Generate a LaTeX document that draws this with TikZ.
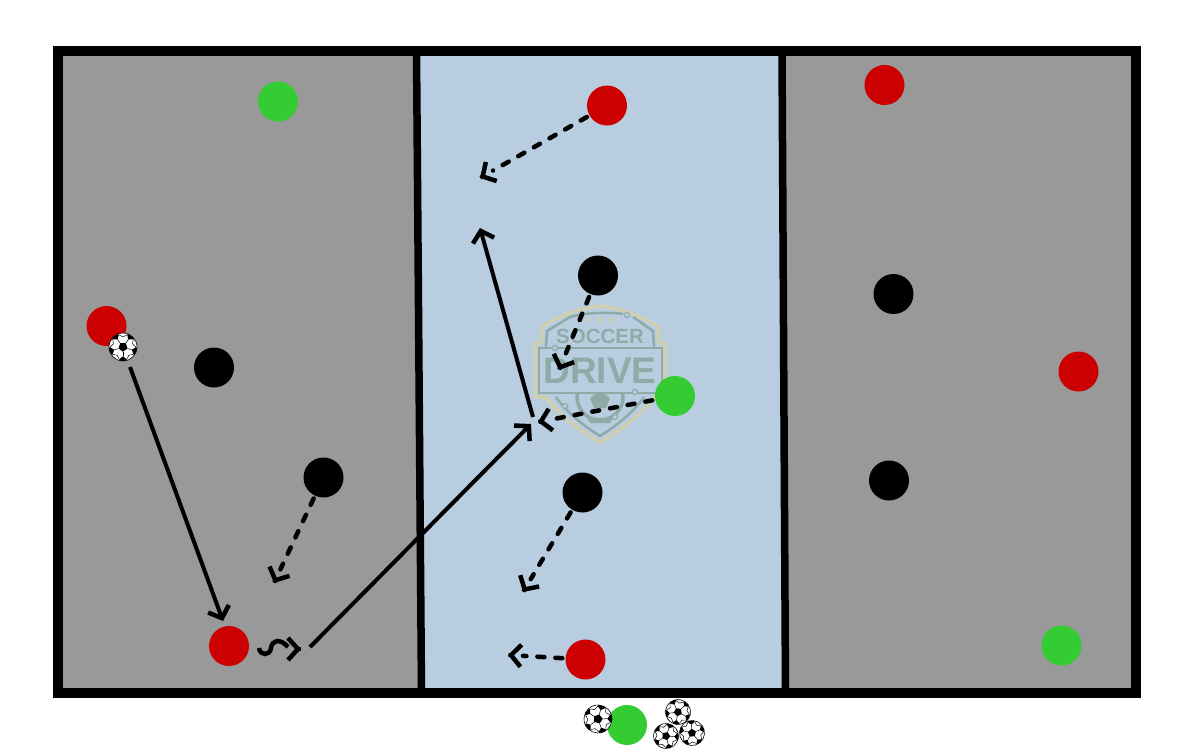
\documentclass[tikz,border=0pt]{standalone}
\usepackage{fontspec}
\setmainfont{Liberation Sans}
\usetikzlibrary{arrows.meta,calc,shapes.geometric}

\definecolor{zoneside}{HTML}{999999}
\definecolor{zonemid}{HTML}{B8CDE0}
\definecolor{teamred}{HTML}{CC0000}
\definecolor{teamgreen}{HTML}{33CC33}
\definecolor{logotan}{HTML}{CFD0B0}
\definecolor{logoteal}{HTML}{8FABA8}

\tikzset{
  player/.style={circle,minimum size=40pt,inner sep=0pt,fill=#1},
  barb/.style={line width=4pt,-{Straight Barb[length=10pt,width=22pt,line width=4.5pt]}},
  run/.style={line width=4.5pt,line cap=round,shorten <=3pt,shorten >=15pt,dash pattern=on 7pt off 11pt},
  pics/ballicon/.style={code={
    \fill[white] (0,0) circle (#1);
    \draw[line width=0.6pt] (0,0) circle (#1);
    \begin{scope}
      \clip (0,0) circle (#1);
      \fill (90:0.34*#1) -- (162:0.34*#1) -- (234:0.34*#1) -- (306:0.34*#1) -- (18:0.34*#1) -- cycle;
      \foreach \ang in {90,162,234,306,18} {
        \draw[line width=0.5pt] (\ang:0.34*#1) -- (\ang:0.66*#1);
        \fill (\ang:0.66*#1) -- (\ang+17:0.92*#1) -- (\ang+11:1.1*#1) -- (\ang-11:1.1*#1) -- (\ang-17:0.92*#1) -- cycle;
        \draw[line width=0.5pt] (\ang+17:0.92*#1) -- (\ang+36:0.72*#1) -- (\ang+55:0.92*#1);
      }
    \end{scope}
  }},
}

\begin{document}
\begin{tikzpicture}[x=1pt,y=-1pt, line cap=butt, line join=miter, >=Stealth]
  \useasboundingbox (0,0) rectangle (1200,750);
  % zones
  \fill[zoneside] (58,51) rectangle (1136,693);
  \fill[zonemid] (416.5,51) -- (782,51) -- (785.5,693) -- (421.5,693) -- cycle;

  % logo
  \draw[logotan,line width=3.5pt,line join=round]
    (600,306) .. controls (580,308) and (558,316) .. (542,327) -- (541,343) -- (535,343) -- (535,397)
    -- (546,397) .. controls (556,412) and (578,430) .. (600,442)
    .. controls (622,430) and (644,412) .. (654,397) -- (665,397) -- (665,343) -- (659,343) -- (658,327)
    .. controls (642,316) and (620,308) .. (600,306) -- cycle;
  \draw[logoteal,line width=2.5pt] (623,314) .. controls (612,312) and (588,312) .. (570,317) -- (547,331) -- (546,347);
  \draw[logoteal,line width=2.5pt] (633,317) -- (653,331) -- (654,347);
  \draw[logoteal,line width=2.5pt] (539,348) rectangle (662,393);
  \draw[logoteal,line width=2.5pt] (556,397) .. controls (566,412) and (584,426) .. (600,436)
    .. controls (616,426) and (634,412) .. (644,397);
  \begin{scope}
    \clip (560,393) rectangle (640,425);
    \draw[logoteal,line width=3.5pt] (600,397) circle (23);
    \fill[logoteal] (600,391) -- (610,398) -- (606,408) -- (594,408) -- (590,398) -- cycle;
    \fill[logoteal] (586,417) -- (600,421) -- (614,417) -- (610,423) -- (590,423) -- cycle;
  \end{scope}
  \foreach \px/\py in {627/315,555/348,635/392,565/406,615/417}
    \draw[logoteal,line width=1.2pt,fill=zonemid] (\px,\py) circle (2.6);
  \foreach \px/\sz in {589/3.4,600/4,611/3.4}
    \node[star,star points=5,star point ratio=2.4,fill=logotan,inner sep=0pt,minimum size=2*\sz pt] (star\px) at (\px,320) {};
  \node[text=logoteal,font=\bfseries\fontsize{20.5}{21}\selectfont,inner sep=0pt] (soccer) at (600,336.5) {SOCCER};
  \node[text=logoteal,font=\bfseries\fontsize{37}{37}\selectfont,inner sep=0pt] (drive) at (600,371) {DRIVE};

  % frame
  \draw[line width=10pt] (58,51) rectangle (1136,693);
  \draw[line width=7.5pt] (416.5,51) -- (421.5,693);
  \draw[line width=7.5pt] (782,51) -- (785.5,693);

  % players
  \node[player=teamgreen] (gTopLeft) at (278,101.5) {};
  \node[player=teamred] (rBallLeft) at (106.5,326) {};
  \node[player=black] (bLeftUp) at (214,367.5) {};
  \node[player=black] (bLeftDown) at (323.5,477.5) {};
  \node[player=teamred] (rBottomLeft) at (229,646) {};
  \node[player=teamred] (rTopMid) at (607,105.5) {};
  \node[player=black] (bMidUp) at (598,275.5) {};
  \node[player=teamgreen] (gMid) at (675,396) {};
  \node[player=black] (bMidDown) at (582.5,492.5) {};
  \node[player=teamred] (rBottomMid) at (585.5,659.5) {};
  \node[player=teamred] (rTopRight) at (884.5,85) {};
  \node[player=black] (bRightUp) at (893.5,294) {};
  \node[player=teamred] (rRight) at (1078.5,371.5) {};
  \node[player=black] (bRightDown) at (889,480.5) {};
  \node[player=teamgreen] (gBottomRight) at (1061.5,645.5) {};
  \node[player=teamgreen] (gServer) at (627,725) {};

  % balls
  \pic at (123,347) {ballicon=14};
  \pic[rotate=20] at (598,719) {ballicon=14};
  \pic[rotate=-10] at (678,712) {ballicon=12.5};
  \pic[rotate=15] at (666,736) {ballicon=12.5};
  \pic[rotate=40] at (692,733) {ballicon=12.5};

  % movement
  \coordinate (passStart) at (130,367);
  \coordinate (passEnd) at (223,621);
  \coordinate (crossStart) at (310,647);
  \coordinate (crossEnd) at (531,424);
  \coordinate (cutStart) at (533,417);
  \coordinate (cutEnd) at (480,228);
  \coordinate (dribbleA) at (259,648);
  \coordinate (dribbleTip) at (301,649);
  \coordinate (runA) at (480,178);
  \coordinate (runB) at (274,583);
  \coordinate (runC) at (559,370);
  \coordinate (runD) at (538,422);
  \coordinate (runE) at (523,592);
  \coordinate (runF) at (508,655);

  \draw[barb] (passStart) -- (passEnd);
  \draw[barb] (crossStart) -- (crossEnd);
  \draw[barb] (cutStart) -- (cutEnd);
  \draw[line width=4.5pt] (dribbleA) .. controls (260,656) and (270,656) .. (271,648)
    .. controls (272,640) and (280,638) .. (288,647);
  \draw[barb] ($(dribbleTip)+(-0.5,0)$) -- (dribbleTip);
  \foreach \from/\to in {rTopMid/runA,bLeftDown/runB,bMidUp/runC,gMid/runD,bMidDown/runE,rBottomMid/runF} {
    \draw[run] (\from) -- (\to);
    \draw[barb] ($(\to)!0.5pt!(\from)$) -- (\to);
  }
\end{tikzpicture}
\end{document}
